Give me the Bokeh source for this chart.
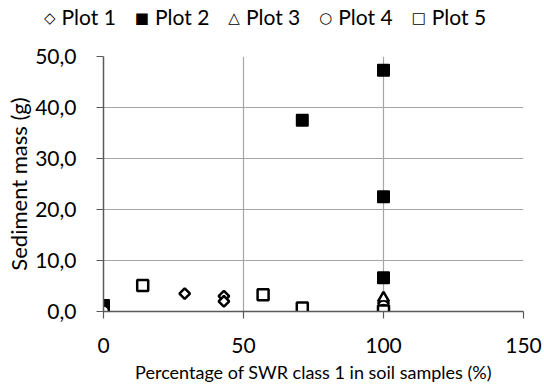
import math
from bokeh.plotting import figure
from bokeh.layouts import column
from bokeh.models import FixedTicker, Range1d, Div
from bokeh.embed import file_html
from bokeh.resources import INLINE

# Data
series_names = ["Plot 1", "Plot 2", "Plot 3", "Plot 4", "Plot 5"]
series_symbols = ["\u25C7", "\u25A0", "\u25B3", "\u25CB", "\u25A1"]
plot1_x = [29, 43, 43, 100]
plot1_y = [3.5, 3.0, 2.0, 1.6]
plot2_x = [0, 71, 100, 100, 100]
plot2_y = [1.2, 37.5, 47.3, 22.5, 6.6]
plot3_x = [0, 100]
plot3_y = [0.2, 2.6]
plot4_x = [0, 71, 100, 100]
plot4_y = [0.1, 0.3, 1.1, 0.4]
plot5_x = [14, 57, 71, 100]
plot5_y = [5.1, 3.3, 0.7, 0.1]
x_ticks = [0, 50, 100, 150]
y_ticks = [0, 10, 20, 30, 40, 50]
y_tick_labels = ["0,0", "10,0", "20,0", "30,0", "40,0", "50,0"]

FONT = "Lato"
LEG_H = 36

styles = [
    dict(marker="square", angle=math.pi / 4, size=7.5, fill_color="white", line_color="black", line_width=2.5),
    dict(marker="square", size=11.5, fill_color="black", line_color="black", line_width=1.5),
    dict(marker="triangle", size=11, fill_color="white", line_color="black", line_width=2.5),
    dict(marker="circle", size=10, fill_color="white", line_color="black", line_width=1.5),
    dict(marker="square", size=11, fill_color="white", line_color="black", line_width=2.5),
]
xs = [plot1_x, plot2_x, plot3_x, plot4_x, plot5_x]
ys = [plot1_y, plot2_y, plot3_y, plot4_y, plot5_y]

p = figure(width=544, height=392 - LEG_H, output_backend="svg", toolbar_location=None,
           x_range=Range1d(0, 150), y_range=Range1d(0, 50),
           min_border_left=103, min_border_right=21, min_border_top=56 - LEG_H,
           min_border_bottom=81)
p.outline_line_color = None

p.xaxis.ticker = FixedTicker(ticks=x_ticks)
p.yaxis.ticker = FixedTicker(ticks=y_ticks)
p.yaxis.major_label_overrides = {t: l for t, l in zip(y_ticks, y_tick_labels)}
p.xaxis.axis_label = "Percentage of SWR class 1 in soil samples (%)"
p.yaxis.axis_label = "Sediment mass (g)"
for ax in (p.xaxis, p.yaxis):
    ax.axis_line_color = "#5a5a5a"
    ax.axis_line_width = 1.5
    ax.major_tick_line_color = "#5a5a5a"
    ax.major_tick_line_width = 1.2
    ax.major_tick_out = 7
    ax.major_tick_in = 0
    ax.minor_tick_line_color = None
    ax.major_label_text_font = FONT
    ax.major_label_text_color = "black"
    ax.major_label_text_font_size = "21px"
    ax.axis_label_text_font = FONT
    ax.axis_label_text_font_style = "normal"
    ax.axis_label_text_color = "black"
p.xaxis.axis_label_text_font_size = "18px"
p.yaxis.axis_label_text_font_size = "22px"
p.xaxis.major_label_standoff = 19
p.yaxis.major_label_standoff = 20
p.xaxis.axis_label_standoff = 5
p.yaxis.axis_label_standoff = 0

p.xgrid.grid_line_color = "#a6a6a6"
p.ygrid.grid_line_color = "#a6a6a6"
p.xgrid.grid_line_width = 1.2
p.ygrid.grid_line_width = 1.2

for x, y, st in zip(xs, ys, styles):
    p.scatter(x, y, **st)

# legend strip (HTML) above the chart
item_html = []
for sym, name in zip(series_symbols, series_names):
    item_html.append(
        '<span style="display:inline-block;margin-right:19px;white-space:nowrap;">'
        '<span style="font-family:\'DejaVu Sans\';font-weight:bold;font-size:15px;'
        'vertical-align:2px;margin-right:6px;">' + sym + '</span>'
        '<span style="font-family:Lato;font-size:21px;">' + name + '</span></span>'
    )
legend_html = ('<div style="width:544px;height:%dpx;line-height:%dpx;padding-left:44px;'
               'box-sizing:border-box;margin:0;color:black;white-space:nowrap;">%s</div>'
               % (LEG_H - 2, LEG_H - 2, "".join(item_html)))
leg = Div(text=legend_html, width=544, height=LEG_H, margin=0)

layout = column(leg, p, spacing=0)
open("out.html", "w").write(file_html(layout, INLINE))
